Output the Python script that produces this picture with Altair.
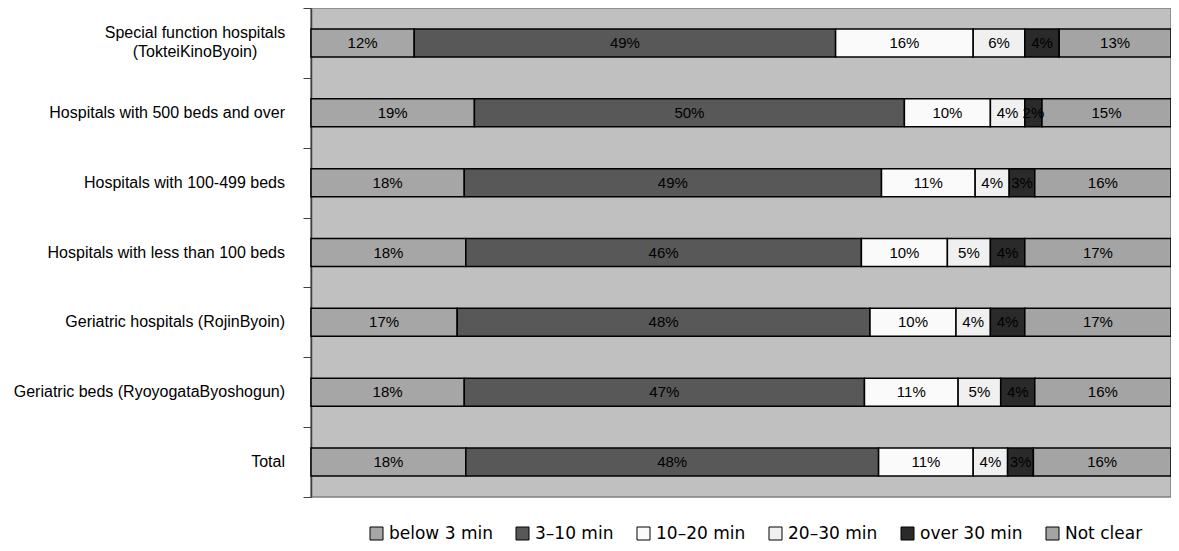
import altair as alt
import pandas as pd

categories = [
    "Special function hospitals|(TokteiKinoByoin)",
    "Hospitals with 500 beds and over",
    "Hospitals with 100-499 beds",
    "Hospitals with less than 100 beds",
    "Geriatric hospitals (RojinByoin)",
    "Geriatric beds (RyoyogataByoshogun)",
    "Total",
]
series = ["below 3 min", "3–10 min", "10–20 min", "20–30 min", "over 30 min", "Not clear"]
below_3 = [12, 19, 18, 18, 17, 18, 18]
min_3_10 = [49, 50, 49, 46, 48, 47, 48]
min_10_20 = [16, 10, 11, 10, 10, 11, 11]
min_20_30 = [6, 4, 4, 5, 4, 5, 4]
over_30 = [4, 2, 3, 4, 4, 4, 3]
not_clear = [13, 15, 16, 17, 17, 16, 16]
colors = ["#a6a6a6", "#585858", "#fafafa", "#f0f0f0", "#2a2a2a", "#a4a4a4"]

rows = []
for si, (name, vals) in enumerate(zip(series, [below_3, min_3_10, min_10_20, min_20_30, over_30, not_clear])):
    for cat, v in zip(categories, vals):
        rows.append({"category": cat, "series": name, "order": si, "value": v})
df = pd.DataFrame(rows)
cat_df = pd.DataFrame({"category": categories})

base = alt.Chart(df).transform_stack(
    stack="value",
    groupby=["category"],
    as_=["x0", "x1"],
    offset="normalize",
    sort=[alt.SortField(field="order", order="ascending")],
).transform_calculate(
    mid="(datum.x0 + datum.x1) / 2",
    label="datum.value + '%'",
)

y_scale = alt.Scale(paddingInner=0, paddingOuter=0)

y_enc = alt.Y(
    "category:N",
    sort=categories,
    scale=y_scale,
    axis=alt.Axis(
        title=None,
        tickBand="extent",
        tickSize=8,
        tickColor="#404040",
        domainColor="#404040",
        domainWidth=1.5,
        labels=False,
        grid=False,
    ),
)

x_scale = alt.Scale(domain=[0, 1], nice=False, zero=True)

bars = base.mark_bar(size=28, stroke="black", strokeWidth=1.5).encode(
    x=alt.X("x0:Q", scale=x_scale, axis=None),
    x2="x1:Q",
    y=y_enc,
    color=alt.Color(
        "series:N",
        scale=alt.Scale(domain=series, range=colors),
        legend=alt.Legend(
            title=None,
            orient="none",
            legendX=57,
            legendY=517,
            direction="horizontal",
            symbolType="square",
            symbolSize=169,
            symbolStrokeColor="black",
            symbolStrokeWidth=1,
            labelFont="DejaVu Sans",
            labelFontSize=17,
            labelColor="black",
            labelOffset=4,
            columnPadding=21,
        ),
    ),
)

texts = base.mark_text(
    font="Liberation Sans, Arial, sans-serif",
    fontSize=15,
    color="black",
).encode(
    x=alt.X("mid:Q", scale=x_scale, axis=None),
    y=alt.Y("category:N", sort=categories),
    text="label:N",
)

label_base = alt.Chart(cat_df).transform_calculate(
    lines="split(datum.category, '|')",
    nlines="length(split(datum.category, '|'))",
)

single_labels = label_base.transform_filter("datum.nlines == 1").mark_text(
    font="Liberation Sans, Arial, sans-serif",
    fontSize=16,
    color="black",
    align="right",
    baseline="middle",
).encode(
    x=alt.value(-26),
    y=alt.Y("category:N", sort=categories),
    text="category:N",
)

multi_labels = label_base.transform_filter("datum.nlines > 1").mark_text(
    font="Liberation Sans, Arial, sans-serif",
    fontSize=16,
    color="black",
    align="center",
    baseline="middle",
    lineHeight=19,
    dy=-9.5,
).encode(
    x=alt.value(-116),
    y=alt.Y("category:N", sort=categories),
    text="lines:N",
)

chart = (
    alt.layer(bars, texts, single_labels, multi_labels)
    .properties(
        width=860,
        height=489,
        autosize=alt.AutoSizeParams(type="none"),
        padding={"left": 303, "top": 0, "right": 0, "bottom": 46},
    )
    .configure_view(fill="#c0c0c0", stroke="#808080", strokeWidth=1.5)
)

chart.save("out.html", embed_options={"renderer": "svg", "actions": False})
